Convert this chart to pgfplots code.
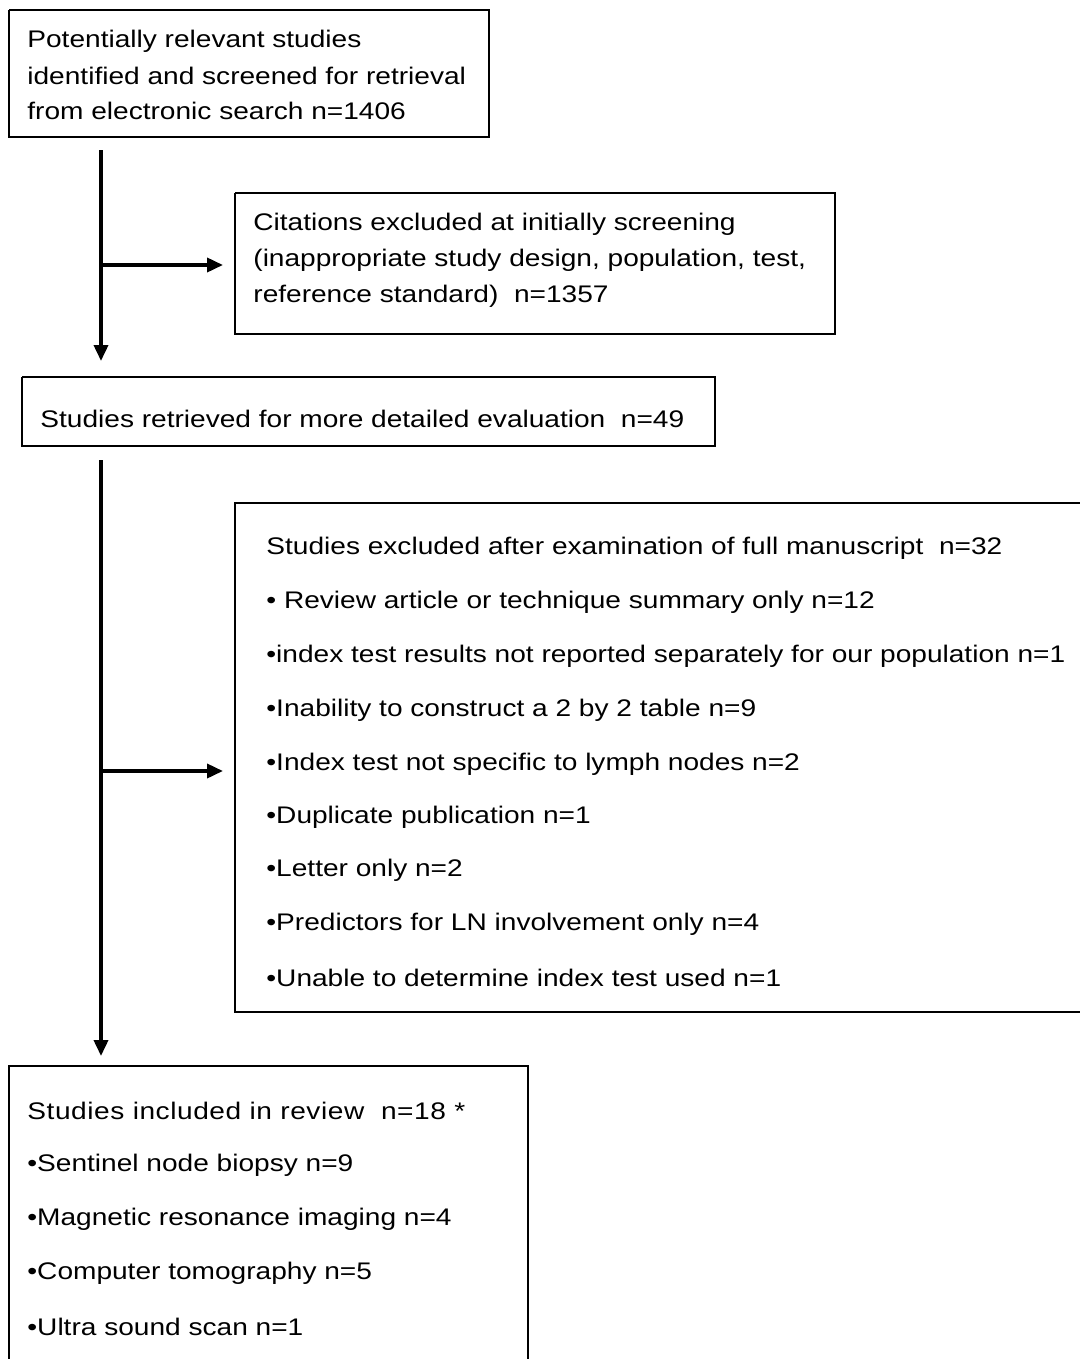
\documentclass[border=0pt]{standalone}
\usepackage{fontspec}
\setmainfont{Liberation Sans}
\usepackage{graphicx}
\usepackage{pgfplots}
\pgfplotsset{compat=1.18}
\usetikzlibrary{arrows.meta}
\newcommand{\T}[1]{\scalebox{1.17}[1]{\fontsize{12}{14}\selectfont #1}}

\begin{document}
\begin{tikzpicture}
\begin{axis}[
    width=540pt, height=679.5pt, scale only axis,
    xmin=0, xmax=1080, ymin=0, ymax=1359, y dir=reverse,
    axis lines=none, clip=true,
]
% invisible frame so the page spans the whole canvas
\addplot[draw=none] coordinates {(0,0) (1080,0) (1080,1359) (0,1359) (0,0)};
% boxes
\addplot[black, line width=1pt] coordinates {(9,10) (489,10) (489,137) (9,137) (9,10)};
\addplot[black, line width=1pt] coordinates {(235,193) (835,193) (835,334) (235,334) (235,193)};
\addplot[black, line width=1pt] coordinates {(22,377) (715,377) (715,446) (22,446) (22,377)};
\addplot[black, line width=1pt] coordinates {(1080,503) (235,503) (235,1012) (1080,1012)};
\addplot[black, line width=1pt] coordinates {(9,1359) (9,1066) (528,1066) (528,1359)};
% arrows
\addplot[black, line width=1.8pt, -{Triangle[width=7pt,length=8pt]}] coordinates {(101,150) (101,361)};
\addplot[black, line width=1.8pt, -{Triangle[width=7pt,length=8pt]}] coordinates {(101,265) (223,265)};
\addplot[black, line width=1.8pt, -{Triangle[width=7pt,length=8pt]}] coordinates {(101,460) (101,1056)};
\addplot[black, line width=1.8pt, -{Triangle[width=7pt,length=8pt]}] coordinates {(101,771) (223,771)};
% text
\node[anchor=west, inner sep=0pt] at (axis cs:27,41) {\T{Potentially relevant studies}};
\node[anchor=west, inner sep=0pt] at (axis cs:27,76) {\T{identified and screened for retrieval}};
\node[anchor=west, inner sep=0pt] at (axis cs:27,111) {\T{from electronic search n=1406}};
\node[anchor=west, inner sep=0pt] at (axis cs:253,224) {\T{Citations excluded at initially screening}};
\node[anchor=west, inner sep=0pt] at (axis cs:253,260) {\T{(inappropriate study design, population, test,}};
\node[anchor=west, inner sep=0pt] at (axis cs:253,296) {\T{reference standard)\ \ n=1357}};
\node[anchor=west, inner sep=0pt] at (axis cs:40,419) {\T{Studies retrieved for more detailed evaluation\ \ n=49}};
\node[anchor=west, inner sep=0pt] at (axis cs:266,548) {\T{Studies excluded after examination of full manuscript\ \ n=32}};
\node[anchor=west, inner sep=0pt] at (axis cs:266,602) {\T{\textbullet\ Review article or technique summary only n=12}};
\node[anchor=west, inner sep=0pt] at (axis cs:266,656) {\T{\textbullet index test results not reported separately for our population n=1}};
\node[anchor=west, inner sep=0pt] at (axis cs:266,710) {\T{\textbullet Inability to construct a 2 by 2 table n=9}};
\node[anchor=west, inner sep=0pt] at (axis cs:266,764) {\T{\textbullet Index test not specific to lymph nodes n=2}};
\node[anchor=west, inner sep=0pt] at (axis cs:266,817) {\T{\textbullet Duplicate publication n=1}};
\node[anchor=west, inner sep=0pt] at (axis cs:266,870) {\T{\textbullet Letter only n=2}};
\node[anchor=west, inner sep=0pt] at (axis cs:266,924) {\T{\textbullet Predictors for LN involvement only n=4}};
\node[anchor=west, inner sep=0pt] at (axis cs:266,978) {\T{\textbullet Unable to determine index test used n=1}};
\node[anchor=west, inner sep=0pt] at (axis cs:27,1111) {\T{\addfontfeature{LetterSpace=2}Studies included in review\ \ n=18 *}};
\node[anchor=west, inner sep=0pt] at (axis cs:27,1165) {\T{\textbullet Sentinel node biopsy n=9}};
\node[anchor=west, inner sep=0pt] at (axis cs:27,1219) {\T{\textbullet Magnetic resonance imaging n=4}};
\node[anchor=west, inner sep=0pt] at (axis cs:27,1273) {\T{\textbullet Computer tomography n=5}};
\node[anchor=west, inner sep=0pt] at (axis cs:27,1327) {\T{\textbullet Ultra sound scan n=1}};
\end{axis}
\end{tikzpicture}
\end{document}
